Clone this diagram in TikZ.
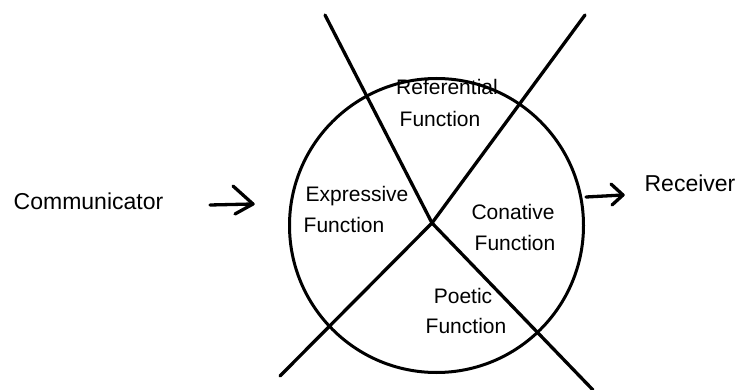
\documentclass[tikz,border=0pt]{standalone}
\usepackage{fontspec}
\setmainfont{Liberation Sans}
\begin{document}
\begin{tikzpicture}[x=1pt,y=-1pt,
  stroke/.style={line width=3.3pt,line cap=round,line join=round},
  outer/.style={font=\fontsize{23}{27}\selectfont,inner sep=0pt,anchor=base},
  inner/.style={font=\fontsize{21}{25}\selectfont,inner sep=0pt,anchor=base}]
\useasboundingbox (0,0) rectangle (742,390);
% circle
\node[circle,draw,line width=3pt,minimum size=294pt,inner sep=0pt] (circ) at (436.5,225.5) {};
% X rays
\coordinate (c) at (432,223);
\coordinate (ul) at (325,15);
\coordinate (ur) at (585,15);
\coordinate (dl) at (280,376);
\coordinate (dr) at (593,390);
\draw[stroke] (ul) -- (c) -- (dr);
\draw[stroke] (ur) -- (c) -- (dl);
% labels
\node[outer] (comm) at (88.5,210) {Communicator};
\node[outer] (recv) at (690,192) {Receiver};
\node[inner] (ref1) at (447,95) {Referential};
\node[inner] (ref2) at (440,127) {Function};
\node[inner] (exp1) at (357,202) {Expressive};
\node[inner] (exp2) at (344,233) {Function};
\node[inner] (con1) at (513,220) {Conative};
\node[inner] (con2) at (515,251) {Function};
\node[inner] (poe1) at (463,304) {Poetic};
\node[inner] (poe2) at (466,334) {Function};
% left arrow
\coordinate (la0) at (210,205);
\coordinate (lat) at (253,204);
\coordinate (lau) at (233,186);
\coordinate (lad) at (235,214);
\draw[stroke] (la0) -- (lat);
\draw[stroke] (lau) -- (lat) -- (lad);
% right arrow
\coordinate (ra0) at (586,197);
\coordinate (rat) at (623,195);
\coordinate (rau) at (611,184);
\coordinate (rad) at (612,205);
\draw[stroke] (ra0) -- (rat);
\draw[stroke] (rau) -- (rat) -- (rad);
\end{tikzpicture}
\end{document}
